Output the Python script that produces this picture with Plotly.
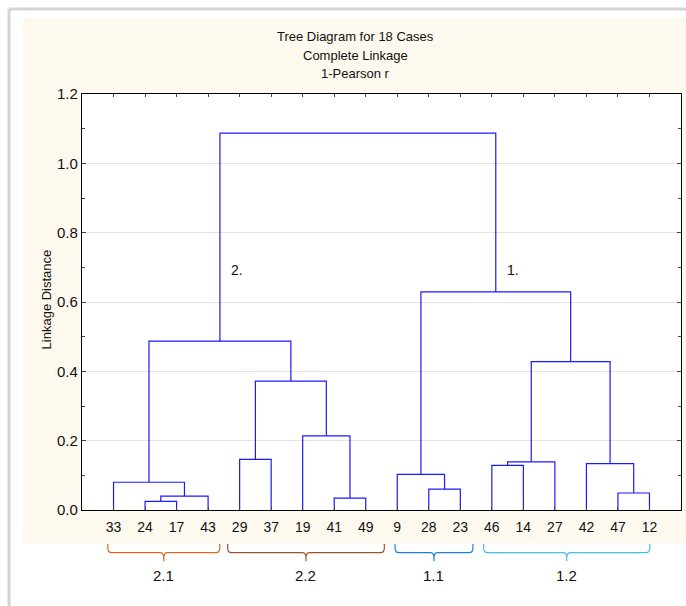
import plotly.graph_objects as go

# Leaf order along the x axis
leaf_labels = ["33", "24", "17", "43", "29", "37", "19", "41", "49",
               "9", "28", "23", "46", "14", "27", "42", "47", "12"]

# Agglomeration steps: (left member, right member, linkage distance).
# Strings are cases, integers refer to an earlier step.
merges = [
    ("24", "17", 0.025),   # 0
    (0, "43", 0.040),      # 1
    ("33", 1, 0.080),      # 2  -> cluster 2.1
    ("29", "37", 0.146),   # 3
    ("41", "49", 0.034),   # 4
    ("19", 4, 0.214),      # 5
    (3, 5, 0.372),         # 6  -> cluster 2.2
    (2, 6, 0.487),         # 7  -> cluster 2.
    ("28", "23", 0.060),   # 8
    ("9", 8, 0.103),       # 9  -> cluster 1.1
    ("46", "14", 0.129),   # 10
    (10, "27", 0.139),     # 11
    ("47", "12", 0.049),   # 12
    ("42", 12, 0.134),     # 13
    (11, 13, 0.428),       # 14 -> cluster 1.2
    (9, 14, 0.629),        # 15 -> cluster 1.
    (7, 15, 1.087),        # 16 root
]

# Main cluster labels, attached to the root's two legs
main_names = ["2.", "1."]
main_steps = [7, 15]
main_label_y = 0.692

# Sub-cluster brackets below the case labels (x in axis units)
group_names = ["2.1", "2.2", "1.1", "1.2"]
group_start = [0.82, 4.62, 9.93, 12.74]
group_end = [4.37, 9.59, 12.40, 18.01]
group_colors = ["#d2691e", "#a0522d", "#1f7fd4", "#45bdea"]

title_lines = ["Tree Diagram for 18 Cases", "Complete Linkage", "1-Pearson r"]
y_ticks = [0.0, 0.2, 0.4, 0.6, 0.8, 1.0, 1.2]

FONT = "Liberation Sans, Arial, sans-serif"

# ---- dendrogram geometry ----
leaf_x = {lab: i + 1 for i, lab in enumerate(leaf_labels)}
node_x, node_y = [], []


def pos(member):
    if isinstance(member, str):
        return leaf_x[member], 0.0
    return node_x[member], node_y[member]


xs, ys = [], []
for a, b, h in merges:
    xa, ya = pos(a)
    xb, yb = pos(b)
    xs += [xa, xa, xb, xb, None]
    ys += [ya, h, h, yb, None]
    node_x.append((xa + xb) / 2)
    node_y.append(h)

fig = go.Figure()
fig.add_trace(go.Scatter(x=xs, y=ys, mode="lines",
                         line=dict(color="#1a1aff", width=1.2),
                         hoverinfo="skip", showlegend=False))

# ---- frame and background ----
shapes = [
    dict(type="rect", xref="paper", yref="paper", x0=-0.0985, x1=1.02,
         y0=-0.0793, y1=1.1827, fillcolor="#fef9ee", line_width=0, layer="below"),
    dict(type="rect", xref="paper", yref="paper", x0=0, x1=1, y0=0, y1=1,
         fillcolor="white", line_width=0, layer="below"),
    dict(type="line", xref="paper", yref="paper", x0=-0.1219, x1=-0.1219,
         y0=-0.24, y1=1.2043, line=dict(color="#d4d4d4", width=3)),
    dict(type="line", xref="paper", yref="paper", x0=-0.1219, x1=1.02,
         y0=1.2043, y1=1.2043, line=dict(color="#d4d4d4", width=3)),
]

# ---- brackets ----
y_top, y_line, y_pip = -0.082, -0.1026, -0.123
r = 0.012   # vertical rounding (paper units)
dx = 0.12   # horizontal rounding (axis units)
annotations = []
for name, x0, x1, col in zip(group_names, group_start, group_end, group_colors):
    xm = (x0 + x1) / 2
    path = (f"M {x0},{y_top} L {x0},{y_line + r} Q {x0},{y_line} {x0 + dx},{y_line} "
            f"L {xm - dx},{y_line} Q {xm},{y_line} {xm},{y_line - r} L {xm},{y_pip} "
            f"M {xm},{y_line - r} Q {xm},{y_line} {xm + dx},{y_line} "
            f"L {x1 - dx},{y_line} Q {x1},{y_line} {x1},{y_line + r} L {x1},{y_top}")
    shapes.append(dict(type="path", xref="x", yref="paper", path=path,
                       line=dict(color=col, width=1.2)))
    annotations.append(dict(x=xm, y=-0.182, xref="x", yref="paper", text=name,
                            showarrow=False, font=dict(size=15, color="#111111", family=FONT)))

for name, step in zip(main_names, main_steps):
    annotations.append(dict(x=node_x[step], y=main_label_y, xref="x", yref="y",
                            text=name, showarrow=False, xanchor="left", xshift=9,
                            font=dict(size=14, color="#111111", family=FONT)))

# ---- title lines ----
for i, line in enumerate(title_lines):
    annotations.append(dict(x=(355 - 82) / 599, y=(510 - 36 - 19 * i) / 416,
                            xref="paper", yref="paper", text=line, showarrow=False,
                            yanchor="middle",
                            font=dict(size=13, color="#111111", family=FONT)))

annotations.append(dict(x=(37 - 82) / 599, y=0.505, xref="paper", yref="paper",
                        text="Linkage Distance", textangle=-90, showarrow=False,
                        font=dict(size=13, color="#111111", family=FONT)))

fig.update_layout(
    width=686, height=606,
    margin=dict(l=82, r=5, t=94, b=96),
    paper_bgcolor="white", plot_bgcolor="white",
    shapes=shapes, annotations=annotations,
    font=dict(family=FONT, color="#111111"),
    xaxis=dict(range=[0, len(leaf_labels) + 1], tickvals=list(range(1, len(leaf_labels) + 1)),
               ticktext=leaf_labels, showgrid=False, zeroline=False,
               showline=True, linecolor="black", linewidth=1.2, mirror="ticks",
               ticks="inside", ticklen=3, tickcolor="#444444", ticklabelstandoff=4,
               tickfont=dict(size=14, color="#111111")),
    yaxis=dict(range=[0, 1.2], tickvals=y_ticks, ticktext=[f"{v:.1f}" for v in y_ticks],
               showgrid=True, gridcolor="#e2e2e2", gridwidth=1, zeroline=False,
               showline=True, linecolor="black", linewidth=1.2, mirror="ticks",
               ticks="inside", ticklen=4, tickcolor="#444444",
               minor=dict(tickvals=[0.1, 0.3, 0.5, 0.7, 0.9, 1.1], ticks="inside",
                          ticklen=3, tickcolor="#444444", showgrid=False),
               tickfont=dict(size=15, color="#111111")),
)

fig.write_html("out.html")
